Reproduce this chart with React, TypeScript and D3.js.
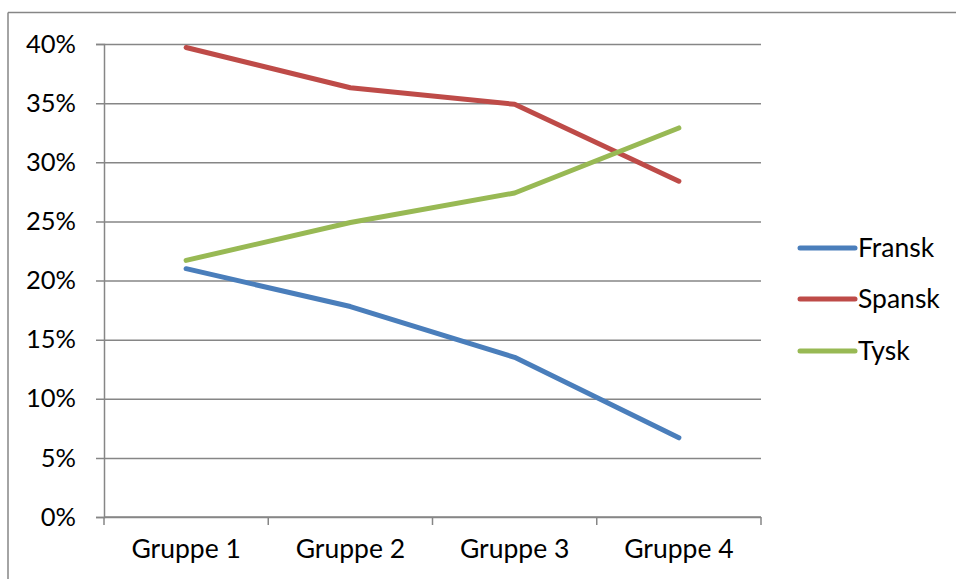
import { useEffect, useRef } from 'react';
import * as d3 from 'd3';

const categories = ['Gruppe 1', 'Gruppe 2', 'Gruppe 3', 'Gruppe 4'];
const fransk = [21.0, 17.8, 13.5, 6.7];
const spansk = [39.7, 36.3, 34.9, 28.4];
const tysk = [21.7, 24.9, 27.4, 32.9];
const yTicks = [0, 5, 10, 15, 20, 25, 30, 35, 40];

const series = [
    { name: 'Fransk', values: fransk, color: '#4a7ebb' },
    { name: 'Spansk', values: spansk, color: '#be4b48' },
    { name: 'Tysk', values: tysk, color: '#98b954' },
];

const width = 956;
const height = 579;
const margin = { top: 44, right: 195, bottom: 62, left: 104 };
const font = 'Lato, "Open Sans", sans-serif';
const gridColor = '#868686';

export default function App() {
    const xAxisEl = useRef<SVGGElement>(null);
    const yAxisEl = useRef<SVGGElement>(null);

    const x = d3
        .scaleBand<string>()
        .domain(categories)
        .range([margin.left, width - margin.right]);
    const y = d3
        .scaleLinear()
        .domain([0, 40])
        .range([height - margin.bottom, margin.top]);

    useEffect(() => {
        if (xAxisEl.current) {
            const boundaries = categories.map((c) => x(c) as number).concat(x.range()[1]);
            const g = d3.select(xAxisEl.current);
            g.selectAll('*').remove();
            g.append('line')
                .attr('x1', x.range()[0])
                .attr('x2', x.range()[1])
                .attr('stroke', gridColor)
                .attr('stroke-width', 1.5);
            g.selectAll('line.tick')
                .data(boundaries)
                .join('line')
                .attr('class', 'tick')
                .attr('x1', (d) => d)
                .attr('x2', (d) => d)
                .attr('y1', 0)
                .attr('y2', 8)
                .attr('stroke', gridColor)
                .attr('stroke-width', 1.5);
            g.selectAll('text')
                .data(categories)
                .join('text')
                .attr('x', (d) => (x(d) as number) + x.bandwidth() / 2)
                .attr('y', 41)
                .attr('text-anchor', 'middle')
                .attr('font-family', font)
                .attr('font-size', 26.5)
                .attr('fill', '#000')
                .text((d) => d);
        }
        if (yAxisEl.current) {
            d3.select(yAxisEl.current)
                .call(
                    d3
                        .axisLeft(y)
                        .tickValues(yTicks)
                        .tickSize(8)
                        .tickPadding(12)
                        .tickFormat((d) => `${d}%`)
                )
                .call((g) => g.select('.domain').attr('stroke', gridColor).attr('stroke-width', 1.5))
                .call((g) =>
                    g
                        .selectAll('.tick line')
                        .attr('stroke', gridColor)
                        .attr('stroke-width', 1.5)
                        .attr('x2', width - margin.right - margin.left)
                        .attr('x1', -8)
                )
                .call((g) =>
                    g
                        .selectAll('.tick text')
                        .attr('font-family', font)
                        .attr('font-size', 25.5)
                        .attr('fill', '#000')
                        .attr('x', -28)
                );
        }
    }, [x, y]);

    const line = d3
        .line<number>()
        .x((_d, i) => (x(categories[i]) as number) + x.bandwidth() / 2)
        .y((d) => y(d));

    const legendX = 800;
    const legendY = [248, 299, 351];

    return (
        <svg
            width={width}
            height={height}
            viewBox={`0 0 ${width} ${height}`}
            style={{ position: 'absolute', left: 0, top: 0, background: '#fff' }}
        >
            <line x1={8} x2={width} y1={12.5} y2={12.5} stroke={gridColor} strokeWidth={1.5} />
            <line x1={8} x2={8} y1={12.5} y2={height} stroke={gridColor} strokeWidth={1.5} />
            <g ref={yAxisEl} transform={`translate(${margin.left}, 0)`} />
            <g ref={xAxisEl} transform={`translate(0, ${height - margin.bottom})`} />
            {series.map((s) => (
                <path
                    key={s.name}
                    d={line(s.values) || ''}
                    fill="none"
                    stroke={s.color}
                    strokeWidth={5}
                    strokeLinecap="round"
                    strokeLinejoin="round"
                />
            ))}
            {series.map((s, i) => (
                <g key={s.name} transform={`translate(${legendX}, ${legendY[i]})`}>
                    <line x1={0} x2={55} stroke={s.color} strokeWidth={5} strokeLinecap="round" />
                    <text
                        x={58}
                        dy="0.35em"
                        fontFamily={font}
                        fontSize={26.5}
                        fill="#000"
                    >
                        {s.name}
                    </text>
                </g>
            ))}
        </svg>
    );
}
